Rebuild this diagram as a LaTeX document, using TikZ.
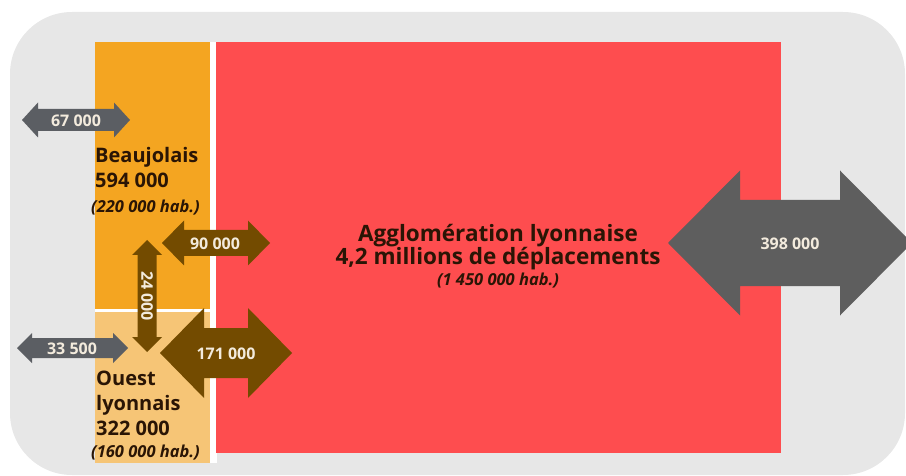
\documentclass[tikz,border=0pt]{standalone}
\usepackage{fontspec}
\setmainfont{Open Sans}
\definecolor{bgc}{HTML}{E7E7E7}
\definecolor{beau}{HTML}{F4A521}
\definecolor{ouest}{HTML}{F6C576}
\definecolor{agglo}{HTML}{FE4D4F}
\definecolor{brn}{HTML}{734B00}
\definecolor{gry}{HTML}{5B5E63}
\definecolor{gryb}{HTML}{5E5E5E}
\definecolor{txt}{HTML}{2A1505}
\definecolor{lbltxt}{HTML}{F3EBDD}
\newcommand\HArr[7]{%
 \fill[#7] (#1,#3) -- (#1+#6,#3-#4) -- (#1+#6,#3-#5) -- (#2-#6,#3-#5) -- (#2-#6,#3-#4) -- (#2,#3)
  -- (#2-#6,#3+#4) -- (#2-#6,#3+#5) -- (#1+#6,#3+#5) -- (#1+#6,#3+#4) -- cycle;}
\newcommand\VArr[7]{%
 \fill[#7] (#3,#1) -- (#3+#4,#1+#6) -- (#3+#5,#1+#6) -- (#3+#5,#2-#6) -- (#3+#4,#2-#6) -- (#3,#2)
  -- (#3-#4,#2-#6) -- (#3-#5,#2-#6) -- (#3-#5,#1+#6) -- (#3-#4,#1+#6) -- cycle;}
\tikzset{
 big/.style={font=\fontsize{20}{24}\selectfont\bfseries, text=txt, inner sep=0pt},
 agg/.style={font=\fontsize{22.5}{26}\selectfont\bfseries, text=txt, inner sep=0pt},
 hab/.style={font=\fontsize{16.5}{20}\selectfont\bfseries\itshape, text=txt, inner sep=0pt},
 lbl/.style={font=\fontsize{16}{19}\selectfont\bfseries, text=lbltxt, inner sep=0pt},
}
\begin{document}
\begin{tikzpicture}[x=1pt,y=-1pt]
\useasboundingbox (0,0) rectangle (906,476);
\clip (0,0) rectangle (906,476);
\fill[bgc, rounded corners=62pt] (10,12) rectangle (905,475);
% white separators
\fill[white] (209,42) rectangle (217,463);
\fill[white] (95,308) rectangle (211,313);
% zones
\fill[beau] (95,42) rectangle (210,309);
\fill[ouest] (95,312) rectangle (210,463);
\fill[agglo] (216,42) rectangle (781,453);
% arrows
\HArr{22}{130}{120}{17.5}{11}{16}{gry}
\HArr{17}{128}{348}{15}{10}{15}{gry}
\HArr{162}{270}{243}{22.5}{13}{22}{brn}
\HArr{160}{292}{353}{45}{25}{44}{brn}
\HArr{668}{912}{243}{72.5}{43}{72}{gryb}
\VArr{240}{352}{147}{15}{9.5}{15}{brn}
% labels
\node[lbl] (l67) at (76,121) {67 000};
\node[lbl] (l335) at (72,349) {33 500};
\node[lbl] (l90) at (215,244) {90 000};
\node[lbl] (l171) at (226,354) {171 000};
\node[lbl] (l398) at (790,244) {398 000};
\node[lbl, rotate=-90] (l24) at (147,296) {24 000};
% zone texts
\node[big, anchor=base west] (b1) at (95,163) {Beaujolais};
\node[big, anchor=base west] (b2) at (95,188) {594 000};
\node[hab, anchor=base west] (b3) at (91,213) {(220 000 hab.)};
\node[big, anchor=base west] (o1) at (96,385) {Ouest};
\node[big, anchor=base west] (o2) at (96,410) {lyonnais};
\node[big, anchor=base west] (o3) at (96,435) {322 000};
\node[hab, anchor=base west] (o4) at (91,457) {(160 000 hab.)};
\node[agg, anchor=base] (a1) at (498,242) {Agglomération lyonnaise};
\node[agg, anchor=base] (a2) at (498,265) {4,2 millions de déplacements};
\node[hab, anchor=base] (a3) at (498,286) {(1 450 000 hab.)};
\end{tikzpicture}
\end{document}
